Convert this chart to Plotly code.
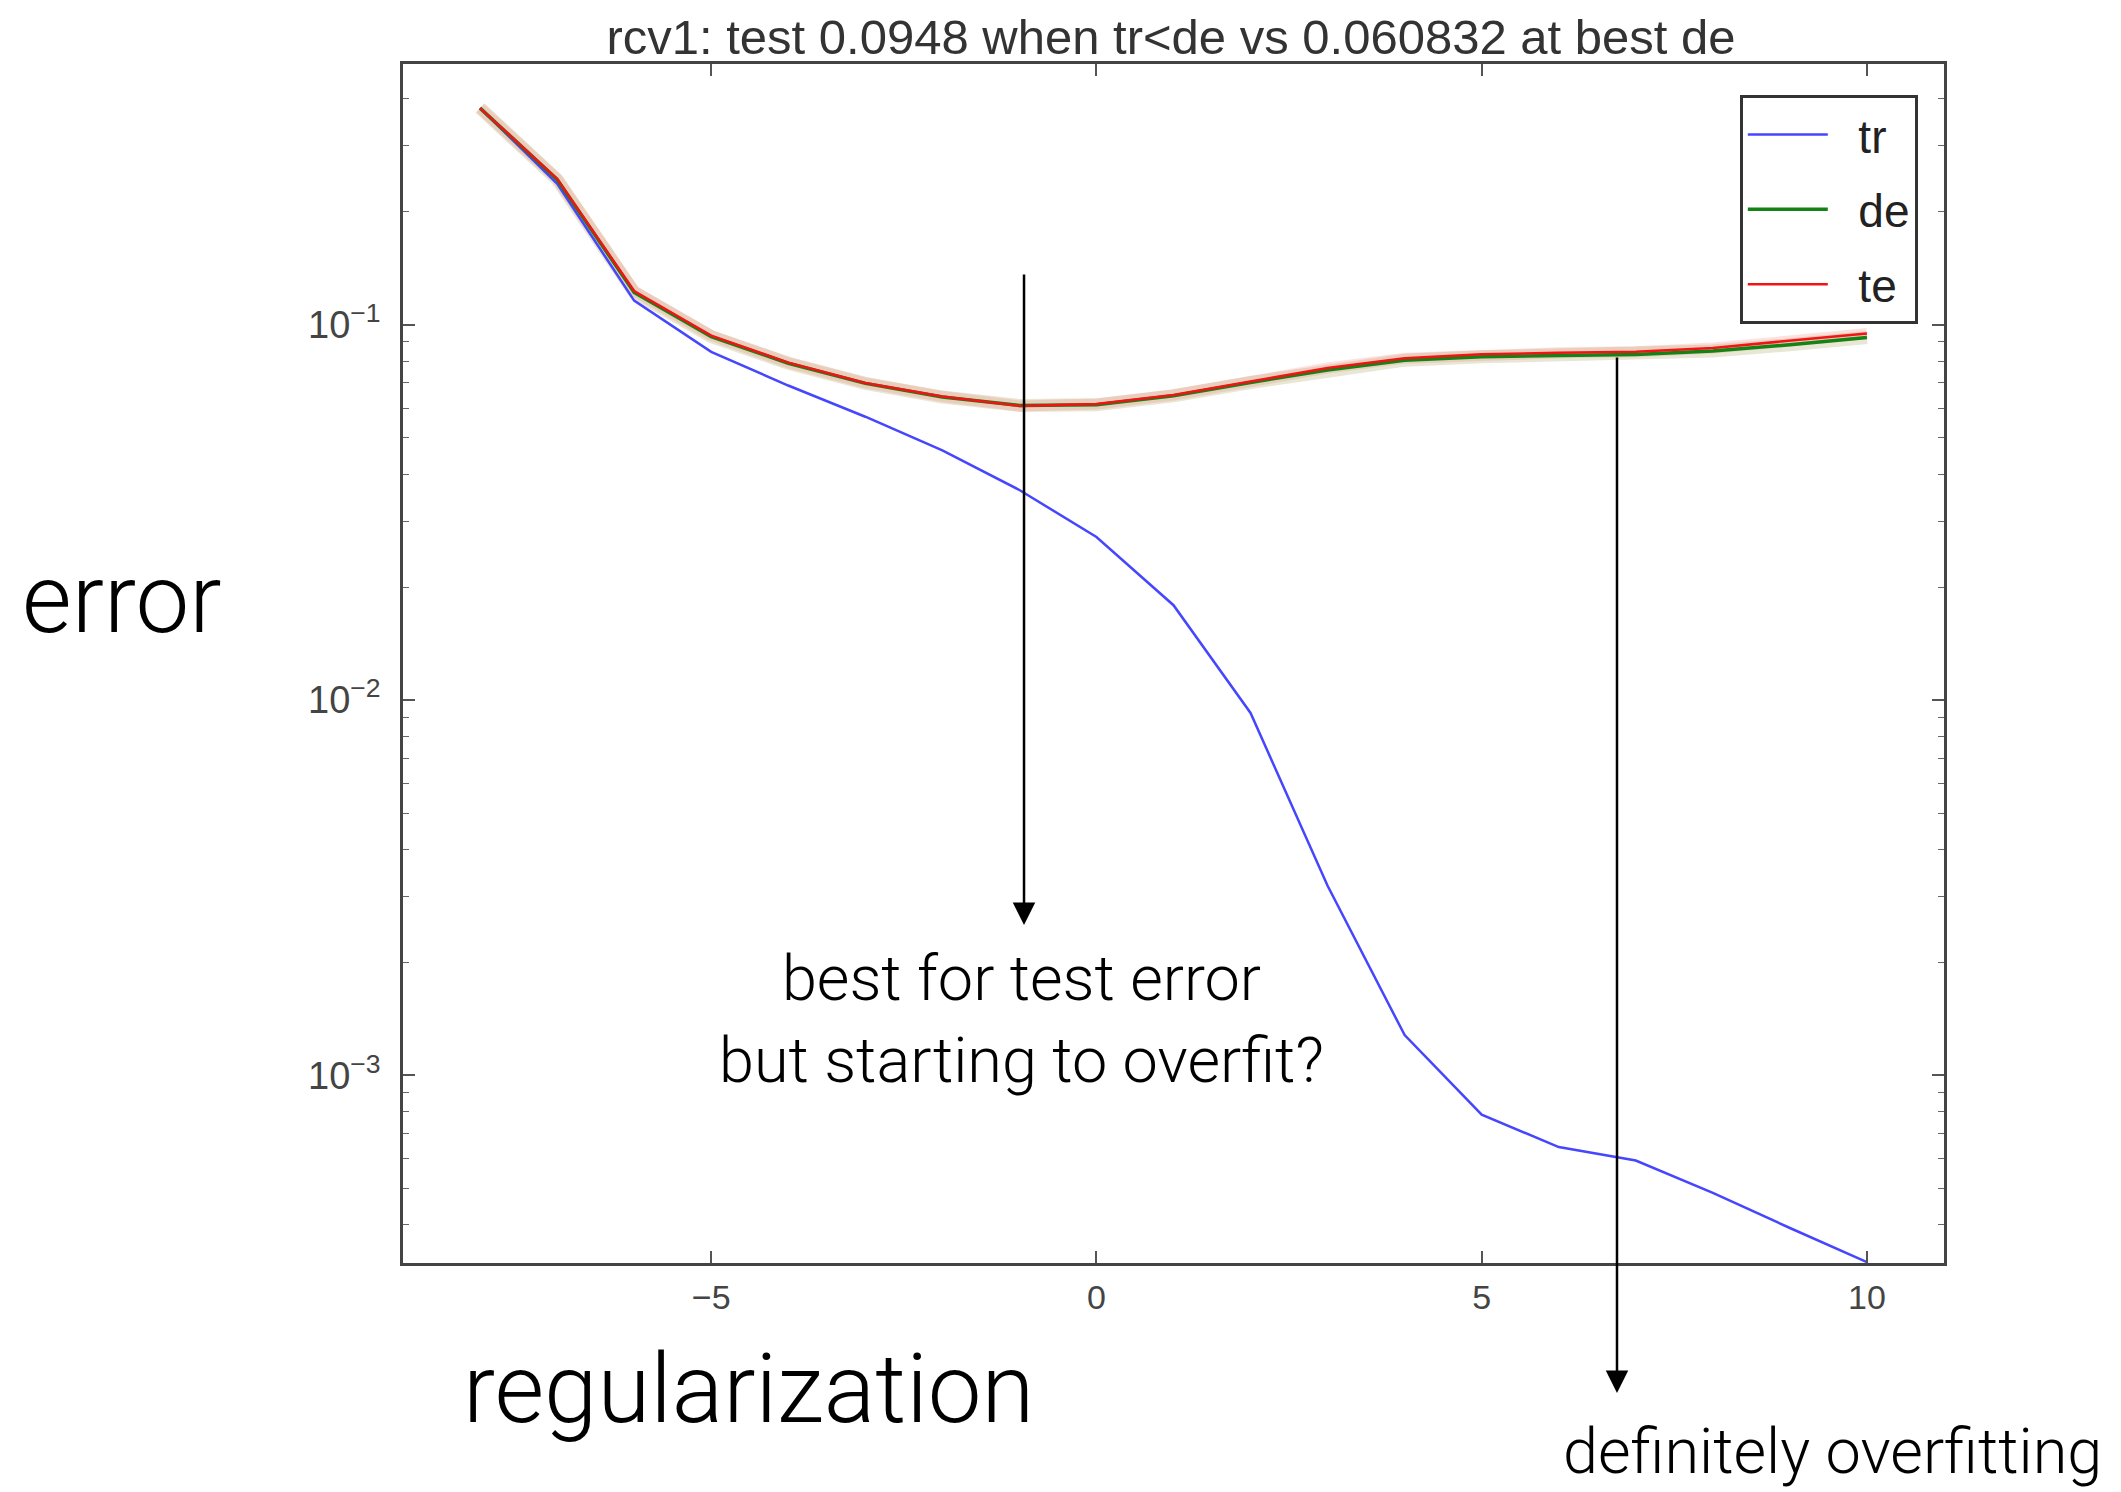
import plotly.graph_objects as go

# ---- data ----
reg = [-8, -7, -6, -5, -4, -3, -2, -1, 0, 1, 2, 3, 4, 5, 6, 7, 8, 9, 10]
tr = [0.378, 0.238, 0.116, 0.0847, 0.0689, 0.0569, 0.0463, 0.0363, 0.0272, 0.0179,
      0.00924, 0.0032, 0.00128, 0.000786, 0.000644, 0.000593, 0.000486, 0.000392, 0.000318]
de = [0.378, 0.244, 0.122, 0.093, 0.079, 0.0698, 0.0642, 0.0610, 0.0612, 0.0647,
      0.0702, 0.0758, 0.0805, 0.0822, 0.0828, 0.0833, 0.0852, 0.0885, 0.0925]
te = [0.378, 0.245, 0.123, 0.0936, 0.0793, 0.0700, 0.0644, 0.0608, 0.0615, 0.0650,
      0.0706, 0.0767, 0.0815, 0.0835, 0.0842, 0.0848, 0.0868, 0.0905, 0.0948]
series_names = ["tr", "de", "te"]
title_text = "rcv1: test 0.0948 when tr<de vs 0.060832 at best de"
x_ticks = [-5, 0, 5, 10]
y_ticks = [0.001, 0.01, 0.1]

AX_FONT = "Liberation Sans, Arial, sans-serif"
ANN_FONT = "Roboto, Helvetica Neue, sans-serif"
PAD = "\u00a0\u00a0"  # spacing between legend line and its label

fig = go.Figure()

# soft halo under the dev / test curves (blurred look of the original)
fig.add_trace(go.Scatter(x=reg, y=de, mode="lines", showlegend=False, hoverinfo="skip",
                         line=dict(color="rgba(150,140,60,0.22)", width=13)))
fig.add_trace(go.Scatter(x=reg, y=te, mode="lines", showlegend=False, hoverinfo="skip",
                         line=dict(color="rgba(240,120,110,0.22)", width=11)))

fig.add_trace(go.Scatter(x=reg, y=tr, mode="lines", name=PAD + series_names[0], legendgroup="a",
                         line=dict(color="rgb(70,70,255)", width=2.5)))
fig.add_trace(go.Scatter(x=reg, y=de, mode="lines", name=PAD + series_names[1], legendgroup="b",
                         line=dict(color="rgb(20,130,20)", width=3.5)))
fig.add_trace(go.Scatter(x=reg, y=te, mode="lines", name=PAD + series_names[2], legendgroup="c",
                         line=dict(color="rgb(240,20,20)", width=2.5)))

minor_vals = [m * 10 ** e for e in (-4, -3, -2, -1) for m in range(2, 10)]

fig.update_layout(
    width=2121, height=1492,
    margin=dict(l=403, r=177, t=64, b=229, autoexpand=False),
    paper_bgcolor="white", plot_bgcolor="white",
    title=dict(text=title_text, x=0.5521, xanchor="center", y=0.975, yanchor="middle",
               font=dict(family=AX_FONT, size=49, color="#333333")),
    showlegend=True,
    legend=dict(x=0.983, xanchor="right", y=0.974, yanchor="top",
                bgcolor="white", bordercolor="#333333", borderwidth=3,
                font=dict(family=AX_FONT, size=46, color="#222222"),
                traceorder="grouped", tracegroupgap=12, itemwidth=80),
    xaxis=dict(range=[-9, 11], tickvals=x_ticks, ticktext=["\u22125", "0", "5", "10"],
               showgrid=False, zeroline=False,
               showline=True, linecolor="#444444", linewidth=2.5, mirror="allticks",
               ticks="inside", ticklen=12, tickwidth=1.5, tickcolor="#555555",
               tickfont=dict(family=AX_FONT, size=34, color="#444444"),
               ticklabelstandoff=2),
    yaxis=dict(type="log", range=[-3.5, -0.305], tickvals=y_ticks,
               ticktext=["10<sup>\u22123</sup>", "10<sup>\u22122</sup>", "10<sup>\u22121</sup>"],
               showgrid=False, zeroline=False,
               showline=True, linecolor="#444444", linewidth=2.5, mirror="allticks",
               ticks="inside", ticklen=12, tickwidth=1.5, tickcolor="#555555",
               tickfont=dict(family=AX_FONT, size=38, color="#444444"),
               ticklabelstandoff=12,
               minor=dict(tickvals=minor_vals, ticks="inside", ticklen=6, tickwidth=1.2,
                          tickcolor="#666666", showgrid=False)),
)

ann_font_big = dict(family=ANN_FONT, size=96, color="black", weight=300)
ann_font_mid = dict(family=ANN_FONT, size=63, color="black", weight=300)

annotations = [
    dict(text="error", xref="paper", yref="paper", x=-0.1824, y=0.554,
         xanchor="center", yanchor="middle", showarrow=False, font=ann_font_big),
    dict(text="regularization", xref="paper", yref="paper", x=0.2239, y=-0.105,
         xanchor="center", yanchor="middle", showarrow=False, font=ann_font_big),
    dict(text="best for test error<br>but starting to overfit?", xref="paper", yref="paper",
         x=0.4016, y=0.2027, xanchor="center", yanchor="middle", showarrow=False,
         font=ann_font_mid),
    dict(text="definitely overfitting", xref="paper", yref="paper", x=1.104, y=-0.157,
         xanchor="right", yanchor="middle", showarrow=False,
         font=dict(family=ANN_FONT, size=63, color="black", weight=300)),
    # arrows
    dict(text="", xref="paper", yref="paper", x=0.403, y=0.2819, ax=0, ay=-652,
         showarrow=True, arrowhead=2, arrowwidth=2.5, arrowsize=1.8, arrowcolor="black"),
    dict(text="", xref="paper", yref="paper", x=0.7878, y=-0.1084, ax=0, ay=-1037,
         showarrow=True, arrowhead=2, arrowwidth=2.5, arrowsize=1.8, arrowcolor="black"),
]
fig.update_layout(annotations=annotations)

fig.write_html("out.html")
